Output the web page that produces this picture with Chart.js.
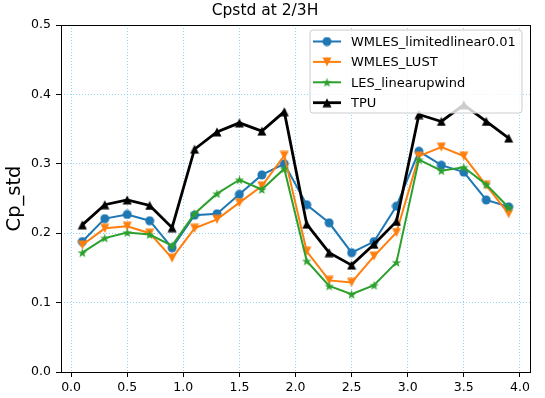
<!DOCTYPE html>
<html>
<head>
<meta charset="utf-8">
<script src="https://cdn.jsdelivr.net/npm/chart.js@4.4.1/dist/chart.umd.min.js"></script>
<style>
  html, body { margin: 0; padding: 0; background: #fff; }
</style>
</head>
<body>
<canvas id="myChart" width="545" height="398"></canvas>
<script>
// positions along the line (x)
var positions = [0.1, 0.3, 0.5, 0.7, 0.9, 1.1, 1.3, 1.5, 1.7, 1.9,
                 2.1, 2.3, 2.5, 2.7, 2.9, 3.1, 3.3, 3.5, 3.7, 3.9];

var wmlesLimited = [0.188, 0.221, 0.227, 0.218, 0.179, 0.226, 0.228, 0.256, 0.284, 0.300,
                    0.241, 0.215, 0.172, 0.188, 0.239, 0.318, 0.298, 0.288, 0.248, 0.238];
var wmlesLust = [0.183, 0.207, 0.210, 0.200, 0.164, 0.207, 0.220, 0.244, 0.268, 0.312,
                 0.174, 0.132, 0.129, 0.167, 0.201, 0.311, 0.324, 0.311, 0.269, 0.228];
var lesLinear = [0.172, 0.193, 0.201, 0.198, 0.182, 0.228, 0.257, 0.277, 0.263, 0.293,
                 0.160, 0.124, 0.112, 0.125, 0.158, 0.306, 0.290, 0.295, 0.270, 0.237];
var tpu = [0.212, 0.241, 0.248, 0.240, 0.208, 0.321, 0.346, 0.359, 0.347, 0.375,
           0.213, 0.172, 0.154, 0.184, 0.217, 0.371, 0.361, 0.385, 0.361, 0.337];

var xTicks = [0.0, 0.5, 1.0, 1.5, 2.0, 2.5, 3.0, 3.5, 4.0];
var yTicks = [0.0, 0.1, 0.2, 0.3, 0.4, 0.5];

var FONT = "'DejaVu Sans', 'Liberation Sans', sans-serif";

// little canvases used as point markers (matplotlib style)
function makeMarker(shape, color, size) {
    var c = document.createElement('canvas');
    c.width = size; c.height = size;
    var g = c.getContext('2d');
    var m = size / 2, r = size / 2 - 0.5;
    g.fillStyle = color;
    g.beginPath();
    if (shape === 'circle') {
        g.arc(m, m, r, 0, Math.PI * 2);
    } else if (shape === 'up') {
        g.moveTo(m, m - r); g.lineTo(m - r, m + r); g.lineTo(m + r, m + r);
    } else if (shape === 'down') {
        g.moveTo(m, m + r); g.lineTo(m - r, m - r); g.lineTo(m + r, m - r);
    } else if (shape === 'star') {
        for (var i = 0; i < 10; i++) {
            var rr = i % 2 === 0 ? r : r * 0.4;
            var a = -Math.PI / 2 + i * Math.PI / 5;
            var px = m + rr * Math.cos(a), py = m + rr * Math.sin(a) + 0.5;
            if (i === 0) g.moveTo(px, py); else g.lineTo(px, py);
        }
    }
    g.closePath();
    g.fill();
    return c;
}

function toPoints(vals) {
    return positions.map(function (x, i) { return { x: x, y: vals[i] }; });
}

var series = [
    { label: 'WMLES_limitedlinear0.01', data: wmlesLimited, color: '#1f77b4', marker: makeMarker('circle', '#1f77b4', 10), width: 2, order: 4 },
    { label: 'WMLES_LUST', data: wmlesLust, color: '#ff7f0e', marker: makeMarker('down', '#ff7f0e', 10), width: 2, order: 3 },
    { label: 'LES_linearupwind', data: lesLinear, color: '#2ca02c', marker: makeMarker('star', '#2ca02c', 11), width: 2, order: 2 },
    { label: 'TPU', data: tpu, color: '#000000', marker: makeMarker('up', '#000000', 10), width: 2.8, order: 1 }
];

// frame round the plot area + legend box inside top right
var framePlugin = {
    id: 'frame',
    afterDatasetsDraw: function (chart) {
        var a = chart.chartArea, ctx = chart.ctx;
        ctx.save();
        ctx.strokeStyle = '#000';
        ctx.lineWidth = 1;
        ctx.strokeRect(Math.round(a.left) + 0.5, Math.round(a.top) + 0.5,
                       Math.round(a.right - a.left), Math.round(a.bottom - a.top));

        // legend
        var bx = 310, by = 30, bw = 212, bh = 83, rad = 3;
        ctx.beginPath();
        ctx.moveTo(bx + rad, by);
        ctx.arcTo(bx + bw, by, bx + bw, by + bh, rad);
        ctx.arcTo(bx + bw, by + bh, bx, by + bh, rad);
        ctx.arcTo(bx, by + bh, bx, by, rad);
        ctx.arcTo(bx, by, bx + bw, by, rad);
        ctx.closePath();
        ctx.fillStyle = 'rgba(255,255,255,0.8)';
        ctx.fill();
        ctx.strokeStyle = '#cccccc';
        ctx.lineWidth = 1;
        ctx.stroke();

        ctx.font = '13px ' + FONT;
        ctx.textBaseline = 'middle';
        ctx.textAlign = 'left';
        series.forEach(function (s, i) {
            var y = 41.5 + i * 20.4;
            ctx.strokeStyle = s.color;
            ctx.lineWidth = s.width;
            ctx.beginPath();
            ctx.moveTo(313, y); ctx.lineTo(341, y);
            ctx.stroke();
            ctx.drawImage(s.marker, 327 - s.marker.width / 2, y - s.marker.height / 2);
            ctx.fillStyle = '#000';
            ctx.fillText(s.label, 351, y + 1);
        });
        ctx.restore();
    }
};

var ctx = document.getElementById('myChart').getContext('2d');

var myChart = new Chart(ctx, {
    type: 'line',
    data: {
        datasets: series.map(function (s) {
            return {
                label: s.label,
                data: toPoints(s.data),
                borderColor: s.color,
                backgroundColor: s.color,
                borderWidth: s.width,
                pointStyle: s.marker,
                pointRadius: 5,
                tension: 0,
                fill: false,
                order: s.order
            };
        })
    },
    options: {
        responsive: false,
        animation: false,
        events: [],
        layout: { padding: { left: 0, right: 15, top: 0, bottom: 0 } },
        plugins: {
            legend: { display: false },
            tooltip: { enabled: false },
            title: {
                display: true,
                text: 'Cpstd at 2/3H',
                color: '#000',
                font: { family: FONT, size: 15.5, weight: 'normal' },
                padding: { top: 2, bottom: 4.4 }
            }
        },
        scales: {
            x: {
                type: 'linear',
                min: -0.09,
                max: 4.09,
                afterBuildTicks: function (scale) {
                    scale.ticks = xTicks.map(function (v) { return { value: v }; });
                },
                afterFit: function (scale) { scale.height = 26; },
                ticks: {
                    color: '#000',
                    font: { family: FONT, size: 12.5 },
                    padding: 3,
                    maxRotation: 0,
                    callback: function (v) { return v.toFixed(1); }
                },
                grid: {
                    color: 'rgba(135,206,250,0.9)',
                    lineWidth: 1,
                    tickColor: '#000',
                    tickLength: 5,
                    tickBorderDash: []
                },
                border: { display: false, dash: [1, 2] }
            },
            y: {
                type: 'linear',
                min: 0,
                max: 0.5,
                afterBuildTicks: function (scale) {
                    scale.ticks = yTicks.map(function (v) { return { value: v }; });
                },
                afterFit: function (scale) { scale.width = 61; },
                ticks: {
                    color: '#000',
                    font: { family: FONT, size: 12.5 },
                    padding: 5,
                    callback: function (v) { return v.toFixed(1); }
                },
                grid: {
                    color: 'rgba(135,206,250,0.9)',
                    lineWidth: 1,
                    tickColor: '#000',
                    tickLength: 5,
                    tickBorderDash: []
                },
                border: { display: false, dash: [1, 2] },
                title: {
                    display: true,
                    text: 'Cp_std',
                    color: '#000',
                    font: { family: FONT, size: 19.5, weight: 'normal' },
                    padding: { top: 3, bottom: 0 }
                }
            }
        }
    },
    plugins: [framePlugin]
});
</script>
</body>
</html>
